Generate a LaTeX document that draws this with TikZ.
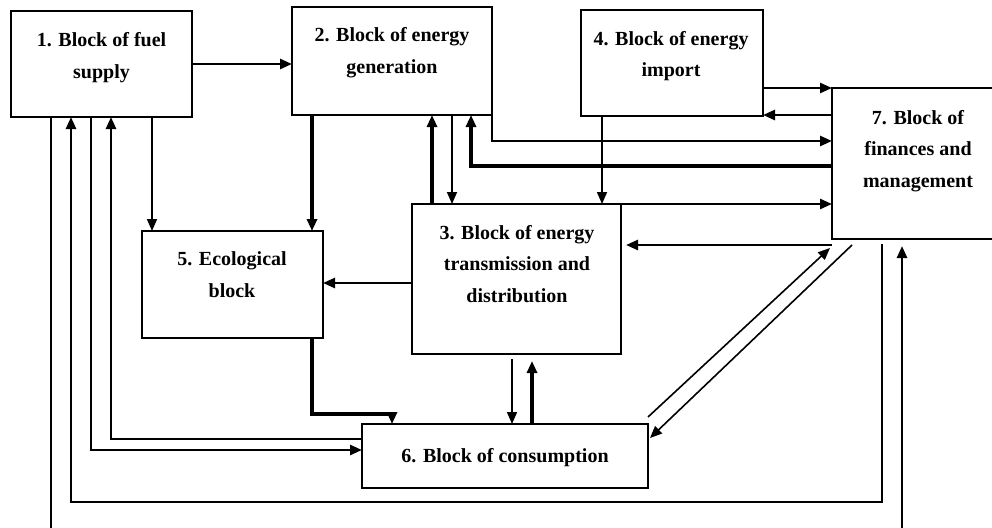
\documentclass[tikz,border=0pt]{standalone}
\usepackage{fontspec}
\setmainfont{Liberation Serif}
\usetikzlibrary{arrows.meta,calc}
\begin{document}
\begin{tikzpicture}[x=1pt,y=-1pt,
  blk/.style={draw, line width=2.4pt, inner sep=0pt, outer sep=0pt},
  lbl/.style={font=\bfseries\fontsize{20}{31.5}\selectfont, align=center, anchor=base, inner sep=0pt},
  thinl/.style={line width=1.6pt},
  medl/.style={line width=2.6pt},
  thickl/.style={line width=4pt},
  arr/.style={-{Triangle[length=12pt,width=10pt]}}]
\useasboundingbox (0,0) rectangle (992,527);
\clip (0,0) rectangle (992,527);
% helper levels
\foreach \xx in {51,71,91,111,152,312,392,432,452,471,512,532,602,882,902}
  \coordinate (x\xx) at (\xx,0);
\foreach \yy in {88,115,141,166,245,283,414,439,450,502}
  \coordinate (h\yy) at (0,\yy);
% blocks
\node[blk, minimum width=181pt, minimum height=106pt] (b1) at (101.5,64) {};
\node[blk, minimum width=200pt, minimum height=108pt] (b2) at (392,61) {};
\node[blk, minimum width=182pt, minimum height=106pt] (b4) at (672,63) {};
\node[blk, minimum width=173pt, minimum height=151pt] (b7) at (918.5,163.5) {};
\node[blk, minimum width=209pt, minimum height=150pt] (b3) at (516.5,279) {};
\node[blk, minimum width=181pt, minimum height=107pt] (b5) at (232.5,284.5) {};
\node[blk, minimum width=286pt, minimum height=64pt] (b6) at (505,456) {};
% labels (anchor = baseline of the last line)
\node[lbl] (t1) at (101.5,78) {1. Block of fuel\\supply};
\node[lbl] (t2) at (392,73) {2. Block of energy\\generation};
\node[lbl] (t4) at (671,77) {4. Block of energy\\import};
\node[lbl] (t7) at (918,187) {7. Block of\\finances and\\management};
\node[lbl] (t3) at (517,302) {3. Block of energy\\transmission and\\distribution};
\node[lbl] (t5) at (232,297) {5. Ecological\\block};
\node[lbl] (t6) at (505,462) {6. Block of consumption};
% free ends
\coordinate (f51) at (51,530);
\coordinate (f902) at (902,530);
\coordinate (d1s) at (648,417);
\coordinate (d1e) at (830,248);
\coordinate (d2s) at (852,245);
\coordinate (d2e) at (650,438);
% connectors
\draw[medl,arr] (b1.east) -- (b2.west |- b1.east);
\draw[thickl,arr] (x312 |- b2.south) -- (x312 |- b5.north);
\draw[thinl,arr] (x152 |- b1.south) -- (x152 |- b5.north);
\draw[medl,arr] (b3.west |- h283) -- (b5.east |- h283);
\draw[thickl,arr] (x432 |- b3.north) -- (x432 |- b2.south);
\draw[thinl,arr] (x452 |- b2.south) -- (x452 |- b3.north);
\draw[thinl,arr] (x602 |- b4.south) -- (x602 |- b3.north);
\draw[medl,arr] (b4.east |- h88) -- (b7.west |- h88);
\draw[medl,arr] (b7.west |- h115) -- (b4.east |- h115);
\draw[medl,arr] (b2.south east) -- (b2.south east |- h141) -- (b7.west |- h141);
\draw[thickl,arr] (b7.west |- h166) -- (x471 |- h166) -- (x471 |- b2.south);
\draw[medl,arr] (b3.north east) -- (b7.west |- b3.north east);
\draw[medl,arr,shorten >=5pt] (b7.west |- h245) -- (b3.east |- h245);
\draw[thinl,arr] (d1s) -- (d1e);
\draw[thinl,arr] (d2s) -- (d2e);
\draw[medl,arr,shorten <=5pt] (x882 |- b7.south) -- (x882 |- h502) -- (x71 |- h502) -- (x71 |- b1.south);
\draw[medl,arr,shorten >=7pt] (f902) -- (x902 |- b7.south);
\draw[thinl] (x51 |- b1.south) -- (f51);
\draw[medl,arr] (x91 |- b1.south) -- (x91 |- h450) -- (b6.west |- h450);
\draw[medl,arr] (b6.west |- h439) -- (x111 |- h439) -- (x111 |- b1.south);
\draw[thickl,arr] (x312 |- b5.south) -- (x312 |- h414) -- (x392 |- h414) -- (x392 |- b6.north);
\draw[thinl,arr,shorten <=5pt] (x512 |- b3.south) -- (x512 |- b6.north);
\draw[thickl,arr,shorten >=7pt] (x532 |- b6.north) -- (x532 |- b3.south);
\end{tikzpicture}
\end{document}
